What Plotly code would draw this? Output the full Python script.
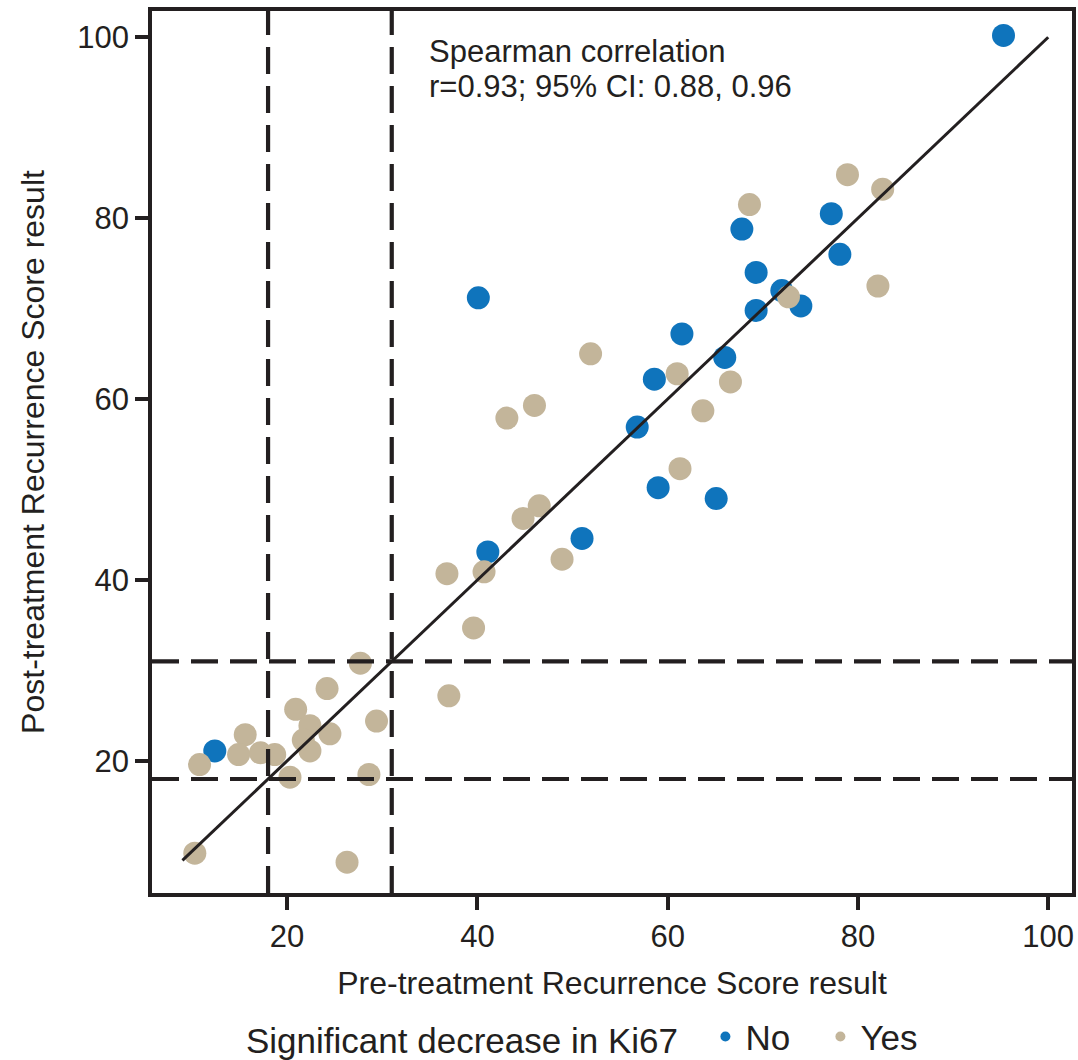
import plotly.graph_objects as go

# ---- data ----
no_pre = [95.3, 77.2, 67.8, 78.1, 69.3, 72.0, 40.1, 69.3, 74.0, 61.5, 66.0, 58.6,
          56.8, 59.0, 65.1, 51.0, 41.1, 12.4]
no_post = [100.2, 80.5, 78.8, 76.0, 74.0, 72.0, 71.2, 69.8, 70.3, 67.2, 64.6, 62.2,
           56.9, 50.2, 49.0, 44.6, 43.1, 21.1]

yes_pre = [78.9, 82.6, 68.6, 82.1, 72.7, 51.9, 61.0, 66.6, 46.0, 43.1, 63.7, 61.3,
           46.5, 44.8, 48.9, 36.8, 40.7, 39.6, 37.0, 27.7, 24.2, 20.9, 29.4, 15.6,
           22.4, 24.5, 10.8, 14.9, 17.2, 18.7, 21.7, 22.4, 20.3, 28.6, 10.3, 26.3]
yes_post = [84.8, 83.2, 81.5, 72.5, 71.3, 65.0, 62.8, 61.9, 59.3, 57.9, 58.7, 52.3,
            48.2, 46.8, 42.3, 40.7, 40.9, 34.7, 27.2, 30.8, 28.0, 25.7, 24.4, 22.9,
            23.9, 23.0, 19.6, 20.7, 20.9, 20.7, 22.3, 21.1, 18.2, 18.5, 9.8, 8.8]

fit_x = [9, 100]
fit_y = [9, 100]
cutoffs = [18, 31]
tick_vals = [20, 40, 60, 80, 100]
ann_lines = ["Spearman correlation", "r=0.93; 95% CI: 0.88, 0.96"]

BLUE = "#0F74BC"
TAN = "#C3B59A"
INK = "#231F20"
FONT = "Liberation Sans, Arial, sans-serif"

fig = go.Figure()
fig.add_trace(go.Scatter(x=no_pre, y=no_post, mode="markers", showlegend=False,
                         marker=dict(size=23, color=BLUE, line=dict(width=0))))
fig.add_trace(go.Scatter(x=yes_pre, y=yes_post, mode="markers", showlegend=False,
                         marker=dict(size=23, color=TAN, line=dict(width=0))))
fig.add_trace(go.Scatter(x=fit_x, y=fit_y, mode="lines", showlegend=False,
                         line=dict(color=INK, width=3)))
# legend entries
fig.add_trace(go.Scatter(x=[None], y=[None], mode="markers", name="No",
                         marker=dict(size=10, color=BLUE)))
fig.add_trace(go.Scatter(x=[None], y=[None], mode="markers", name="Yes",
                         marker=dict(size=10, color=TAN)))

for c in cutoffs:
    fig.add_vline(x=c, line=dict(color=INK, width=4.2, dash="27px,12px"))
    fig.add_hline(y=c, line=dict(color=INK, width=4.2, dash="27px,12px"))

fig.add_annotation(x=34.7, y=98.4, xref="x", yref="y", text=ann_lines[0],
                   showarrow=False, xanchor="left", yanchor="middle",
                   font=dict(family=FONT, size=31, color=INK))
fig.add_annotation(x=34.7, y=94.6, xref="x", yref="y", text=ann_lines[1],
                   showarrow=False, xanchor="left", yanchor="middle",
                   font=dict(family=FONT, size=31, color=INK))

axis_common = dict(
    showgrid=False, zeroline=False, showline=True, mirror=True,
    linecolor=INK, linewidth=3.8, ticks="outside", ticklen=13, tickwidth=4,
    tickcolor=INK, tickvals=tick_vals,
    tickfont=dict(family=FONT, size=31, color=INK),
)

fig.update_xaxes(range=[5.8, 102.5], **axis_common,
                 title=dict(text="Pre-treatment Recurrence Score result",
                            font=dict(family=FONT, size=32, color=INK), standoff=20))
fig.update_yaxes(range=[5.4, 102.9], **axis_common,
                 title=dict(text="Post-treatment Recurrence Score result",
                            font=dict(family=FONT, size=32, color=INK), standoff=24))

fig.update_layout(
    width=1078, height=1060,
    margin=dict(l=152, r=6, t=11, b=167, autoexpand=False),
    plot_bgcolor="white", paper_bgcolor="white",
    font=dict(family=FONT, color=INK),
    legend=dict(orientation="h", x=0.1, y=-0.163, xanchor="left", yanchor="middle",
                title=dict(text="Significant decrease in Ki67  ",
                           font=dict(family=FONT, size=35, color=INK)),
                font=dict(family=FONT, size=35, color=INK),
                entrywidth=70, entrywidthmode="pixels",
                bgcolor="rgba(0,0,0,0)", itemsizing="trace"),
)

fig.write_html("out.html")
